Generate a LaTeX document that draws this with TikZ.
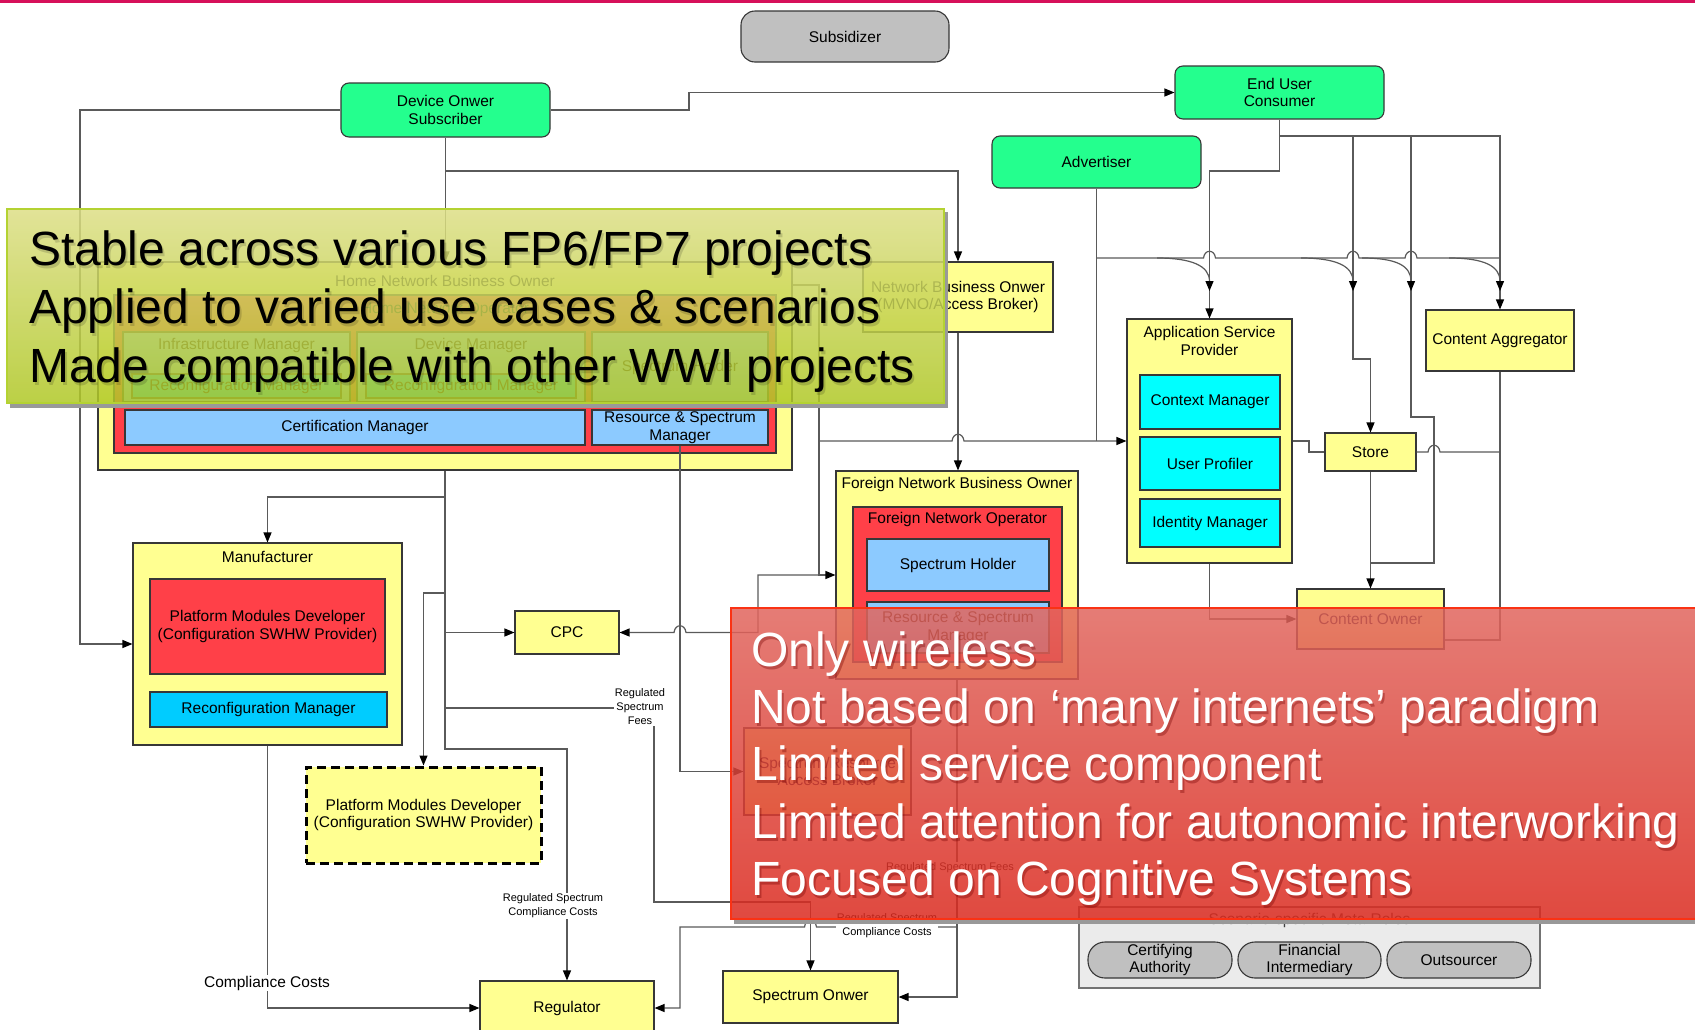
\documentclass[tikz,border=0pt]{standalone}
\usepackage{fontspec}
\setmainfont{Liberation Sans}
\usetikzlibrary{arrows.meta}
\definecolor{topbar}{RGB}{214,16,90}
\definecolor{grn}{RGB}{36,255,142}
\definecolor{gry}{RGB}{192,192,192}
\definecolor{yel}{RGB}{255,255,145}
\definecolor{redc}{RGB}{255,64,72}
\definecolor{lblue}{RGB}{140,202,255}
\definecolor{cyanc}{RGB}{0,255,255}
\definecolor{skyc}{RGB}{0,204,255}
\definecolor{metabg}{RGB}{235,235,235}
\definecolor{bordc}{RGB}{55,55,55}
\definecolor{linec}{RGB}{90,90,90}
\definecolor{ovgtop}{RGB}{221,223,134}
\definecolor{ovgbot}{RGB}{176,200,38}
\definecolor{ovgedge}{RGB}{180,210,50}
\definecolor{ovrtop}{RGB}{225,102,94}
\definecolor{ovrbot}{RGB}{219,42,31}
\definecolor{ovredge}{RGB}{250,50,20}
\newcommand\diagfont{\fontsize{15.5}{17.5}\selectfont}
\newcommand\lblfont{\fontsize{11}{14}\selectfont}
\newcommand\ovfont{\fontsize{48}{58}\selectfont}
\begin{document}
\begin{tikzpicture}[x=1pt,y=-1pt,
  sz/.style 2 args={minimum width=#1pt,minimum height=#2pt},
  base/.style={draw=bordc,line width=1.1pt,inner sep=0pt,align=center,font=\diagfont},
  greenbox/.style={base,fill=grn,rounded corners=8pt},
  graybox/.style={base,fill=gry,rounded corners=14pt},
  ybox/.style={base,fill=yel},
  rbox/.style={base,fill=redc},
  bbox/.style={base,fill=lblue},
  cbox/.style={base,fill=cyanc},
  sbox/.style={base,fill=skyc},
  dashbox/.style={base,fill=yel,draw=black,line width=3pt,dash pattern=on 9pt off 5pt},
  metabox/.style={base,fill=metabg,draw=black!55},
  pill/.style={base,fill=gry,rounded corners=17pt},
  txt/.style={font=\diagfont,inner sep=0pt,align=center},
  lbl/.style={font=\lblfont,fill=white,inner sep=1pt,align=center},
  conn/.style={draw=linec,line width=1.2pt},
  arr/.style={conn,-{Triangle[length=10pt,width=8pt,color=black]}},
  hopr/.style 2 args={insert path={-- ({#1-6},#2) .. controls ({#1-5},{#2-9}) and ({#1+5},{#2-9}) .. ({#1+6},#2)}},
  hopl/.style 2 args={insert path={-- ({#1+6},#2) .. controls ({#1+5},{#2-9}) and ({#1-5},{#2-9}) .. ({#1-6},#2)}},
  ovtext/.style={font=\ovfont,anchor=base west,inner sep=0pt}
]
\useasboundingbox (0,0) rectangle (1695,1029);
\clip (0,0) rectangle (1695,1029);
\fill[white] (0,0) rectangle (1695,1029);
\fill[topbar] (0,0) rectangle (1695,3);

% ---------- top actors ----------
\node[graybox,sz={208}{51}] (sub) at (845,36.5) {Subsidizer};
\node[greenbox,sz={209}{54}] (dev) at (445.5,110) {Device Onwer\\Subscriber};
\node[greenbox,sz={209}{53}] (eu) at (1279.5,92.5) {End User\\Consumer};
\node[greenbox,sz={209}{52}] (adv) at (1096.5,162) {Advertiser};
\node[ybox,sz={190}{70}] (nbo) at (958,297) {Network Business Onwer\\(MVNO/Access Broker)};

% ---------- service side ----------
\node[ybox,sz={165}{244}] (asp) at (1209.5,441) {};
\node[txt] (asptitle) at (1209.5,341) {Application Service\\Provider};
\node[cbox,sz={140}{54}] (ctx) at (1210,402) {Context Manager};
\node[cbox,sz={140}{53}] (upr) at (1210,463.5) {User Profiler};
\node[cbox,sz={140}{48}] (idm) at (1210,523) {Identity Manager};
\node[ybox,sz={148}{61}] (ca) at (1500,340.5) {Content Aggregator};
\node[ybox,sz={91}{38}] (store) at (1370.5,452) {Store};
\node[ybox,sz={147}{60}] (co) at (1370.5,619) {Content Owner};

% ---------- home network business owner ----------
\node[ybox,sz={694}{208}] (hnbo) at (445,366) {};
\node[txt] (hnbotitle) at (445,281) {Home Network Business Owner};
\node[rbox,sz={662}{158}] (hno) at (445,374) {};
\node[txt] (hnotitle) at (445,309) {Home Network Operator};
\node[bbox,sz={227}{70}] (infm) at (236.5,367) {};
\node[txt] (infmtitle) at (236.5,345) {Infrastructure Manager};
\node[sbox,sz={209}{24}] (rcma) at (236.5,386) {Reconfiguration Manager};
\node[bbox,sz={228}{70}] (devm) at (471,367) {};
\node[txt] (devmtitle) at (471,345) {Device Manager};
\node[sbox,sz={210}{24}] (rcmb) at (471,386) {Reconfiguration Manager};
\node[bbox,sz={176}{70}] (sph1) at (680,367) {Spectrum Holder};
\node[bbox,sz={460}{35}] (cert) at (355,427.5) {Certification Manager};
\node[bbox,sz={176}{35}] (rsm1) at (680,427.5) {Resource \& Spectrum\\Manager};

% ---------- manufacturer ----------
\node[ybox,sz={269}{202}] (manu) at (267.5,644) {};
\node[txt] (manutitle) at (267.5,557) {Manufacturer};
\node[rbox,sz={235}{95}] (pmd) at (267.5,626.5) {Platform Modules Developer\\(Configuration SWHW Provider)};
\node[sbox,sz={237}{35}] (rcmc) at (268.5,709.5) {Reconfiguration Manager};
\node[dashbox,sz={235}{96}] (pmd2) at (423.5,815) {Platform Modules Developer\\(Configuration SWHW Provider)};
\node[ybox,sz={104}{43}] (cpc) at (567,632.5) {CPC};

% ---------- foreign network business owner ----------
\node[ybox,sz={242}{208}] (fnbo) at (957,575) {};
\node[txt] (fnbotitle) at (957,484) {Foreign Network Business Owner};
\node[rbox,sz={209}{155}] (fno) at (957.5,584.5) {};
\node[txt] (fnotitle) at (957.5,519) {Foreign Network Operator};
\node[bbox,sz={182}{52}] (sph2) at (958,565) {Spectrum Holder};
\node[bbox,sz={182}{51}] (rsm2) at (958,627.5) {Resource \& Spectrum\\Manager};
\node[ybox,sz={167}{87}] (sab) at (827.5,771.5) {Spectrum/Resource\\Access Broker};

% ---------- regulation ----------
\node[ybox,sz={174}{54}] (reg) at (567,1008) {Regulator};
\node[ybox,sz={175}{52}] (spo) at (810.5,997) {Spectrum Onwer};

% ---------- meta roles ----------
\node[metabox,sz={461}{81}] (meta) at (1309.5,947.5) {};
\node[txt,text=black!75] (metatitle) at (1309.5,920) {Scenario-specific Meta-Roles};
\node[pill,sz={144}{36}] (certa) at (1160,960) {Certifying\\Authority};
\node[pill,sz={143}{36}] (fin) at (1309.5,960) {Financial\\Intermediary};
\node[pill,sz={144}{36}] (outs) at (1459,960) {Outsourcer};

% ---------- junction points ----------
\coordinate (jdev) at (445.5,171);
\coordinate (jeu) at (1279.5,136);
\coordinate (jh1) at (445,497);
\coordinate (jh2) at (445,593);
\coordinate (jh3) at (445,632.5);
\coordinate (jh4) at (445,708);
\coordinate (jbus) at (819,441);
\coordinate (jfn) at (819,575);
\coordinate (jrs) at (957,927);
\coordinate (cv1) at (1157,258);
\coordinate (cv2) at (1301,258);
\coordinate (cv3) at (1362,258);
\coordinate (cv4) at (1449,258);

% ---------- connectors ----------
\draw[arr] (dev.west) -- (80,110) |- (manu.west);
\draw[arr] (dev.east) -- (689,110) -- (689,92.5) -- (eu.west);
\draw[arr] (dev.south) -- (dev.south |- hnbo.north);
\draw[arr] (jdev) -| (nbo.north);
\draw[arr] (eu.south) -- (1279.5,171) -| (asp.north);
\draw[arr] (jeu) -| (ca.north);
\draw[arr] (1353,136) -- (1353,359) -| (store.north);
\draw[conn] (1411,136) -- (1411,417) -- (1434,417) -- (1434,563) -- (1370.5,563);
\draw[arr] (store.south) -- (co.north);
\draw[conn] (adv.south) -- (1096.5,441);
\draw[conn] (1096.5,258) [hopr={1209.5}{258}] [hopr={1353}{258}] [hopr={1411}{258}] -- (1500,258);
\draw[arr] (cv1) .. controls (1192,258) and (1209.5,266) .. (1209.5,291);
\draw[arr] (cv2) .. controls (1336,258) and (1353,266) .. (1353,291);
\draw[arr] (cv3) .. controls (1397,258) and (1411,266) .. (1411,291);
\draw[arr] (cv4) .. controls (1484,258) and (1500,266) .. (1500,291);
\draw[arr] (hnbo.east |- 0,285) -- (819,285) |- (fnbo.west);
\draw[arr] (jbus) [hopr={958}{441}] -- (asp.west);
\draw[arr] (jfn) -- (758,575) -- (758,632.5) [hopl={680}{632.5}] -- (cpc.east);
\draw[arr] (nbo.south) -- (nbo.south |- fnbo.north);
\draw[conn] (asp.east) -- (1309,441) -- (1309,452) -- (store.west);
\draw[conn] (store.east) [hopr={1434}{452}] -- (1500,452);
\draw[conn] (ca.south) -- (1500,640) -- (co.east |- 0,640);
\draw[arr] (asp.south) |- (co.west);
\draw[arr] (hnbo.south) -- (445,749) -| (reg.north);
\draw[arr] (jh1) -| (manu.north);
\draw[arr] (jh2) -| (pmd2.north);
\draw[arr] (jh3) -- (cpc.west);
\draw[arr] (jh4) -- (654,708) -- (654,902) -| (spo.north);
\draw[arr] (rsm1.south) |- (sab.west);
\draw[arr] (fnbo.south) |- (spo.east);
\draw[arr] (jrs) [hopl={810.5}{927}] -- (680,927) |- (reg.east);
\draw[arr] (manu.south) |- (reg.west);

% ---------- connector labels ----------
\node[lbl] (fees1) at (640,707) {Regulated\\Spectrum\\Fees};
\node[lbl] (rscc1) at (553,906) {Regulated Spectrum\\Compliance Costs};
\node[lbl] (rscc2) at (887,926) {Regulated Spectrum\\Compliance Costs};
\node[lbl] (fees2) at (950,868) {Regulated Spectrum Fees};
\node[font=\diagfont,fill=white,inner sep=1pt] (cc) at (267,983) {Compliance Costs};

% ---------- green call-out ----------
\fill[black!40] (10,403) rectangle (947,408);
\fill[black!40] (944,212) rectangle (948,408);
\shade[top color=ovgtop,bottom color=ovgbot,opacity=0.85] (7,209) rectangle (944,403);
\draw[ovgedge,line width=1.5pt] (7,209) rectangle (944,403);
\node[ovtext,text=black,opacity=0.15] (gs1) at (31,268) {Stable across various FP6/FP7 projects};
\node[ovtext,text=black,opacity=0.15] (gs2) at (31,326) {Applied to varied use cases \& scenarios};
\node[ovtext,text=black,opacity=0.15] (gs3) at (31,385) {Made compatible with other WWI projects};
\node[ovtext] (g1) at (29,265) {Stable across various FP6/FP7 projects};
\node[ovtext] (g2) at (29,323) {Applied to varied use cases \& scenarios};
\node[ovtext] (g3) at (29,382) {Made compatible with other WWI projects};

% ---------- red call-out ----------
\fill[black!40] (734,919) rectangle (1695,924);
\shade[top color=ovrtop,bottom color=ovrbot,opacity=0.85] (731,608) rectangle (1700,919);
\draw[ovredge,line width=2pt] (1700,608) -- (731,608) -- (731,919) -- (1700,919);
\begin{scope}[every node/.style={ovtext,text=red!45!black,opacity=0.35}]
\node (rs1) at (753,669) {Only wireless};
\node (rs2) at (753,726) {Not based on ‘many internets’ paradigm};
\node (rs3) at (753,783) {Limited service component};
\node (rs4) at (753,841) {Limited attention for autonomic interworking};
\node (rs5) at (753,898) {Focused on Cognitive Systems};
\end{scope}
\begin{scope}[every node/.style={ovtext,text=white}]
\node (r1) at (751,666) {Only wireless};
\node (r2) at (751,723) {Not based on ‘many internets’ paradigm};
\node (r3) at (751,780) {Limited service component};
\node (r4) at (751,838) {Limited attention for autonomic interworking};
\node (r5) at (751,895) {Focused on Cognitive Systems};
\end{scope}
\end{tikzpicture}
\end{document}
